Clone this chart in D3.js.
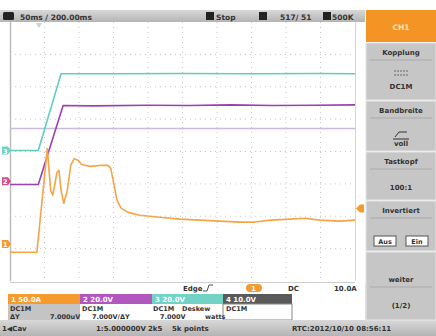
<!DOCTYPE html>
<html>
<head>
<meta charset="utf-8">
<script src="https://cdn.jsdelivr.net/npm/d3@7"></script>
<style>
  html, body { margin: 0; padding: 0; background: #fff; }
  svg { display: block; }
  text { font-family: "DejaVu Sans", "Liberation Sans", sans-serif; font-weight: bold; }
</style>
</head>
<body>
<svg id="scope" width="436" height="336"></svg>
<script>
// Time base: 10 divisions of 50 ms; amplitudes are in screen divisions.
const xDivs = [0, 1, 2, 3, 4, 5, 6, 7, 8, 9, 10];
const yDivs = [-4, -3, -2, -1, 0, 1, 2, 3, 4];

// Channel 1 (current, orange)
const ch1Time = [0, 39, 54, 59, 62, 68, 71, 74, 78, 83, 88, 93, 99, 104, 110, 116, 130, 142, 146, 151, 155, 161, 171, 188, 217, 246, 275, 304, 333, 355, 377, 406, 427, 449, 478, 500];
const ch1Vals = [-3.11, -3.11, 0.09, -1.2, -1.35, -0.65, -0.58, -1.2, -1.6, -1.2, -0.43, -0.22, -0.28, -0.4, -0.43, -0.46, -0.43, -0.43, -0.52, -1.05, -1.5, -1.75, -1.88, -1.97, -2.03, -2.09, -2.12, -2.15, -2.18, -2.18, -2.12, -2.09, -2.06, -2.12, -2.15, -2.12];

// Channel 2 (purple)
const ch2Time = [0, 41, 77, 120, 200, 260, 320, 380, 440, 500];
const ch2Vals = [-1.02, -1.02, 1.42, 1.41, 1.43, 1.42, 1.44, 1.42, 1.43, 1.44];

// Channel 3 (teal)
const ch3Time = [0, 41, 74, 150, 250, 350, 450, 500];
const ch3Vals = [0.03, 0.03, 2.4, 2.4, 2.41, 2.4, 2.41, 2.4];

// Channel 4 (reference, lavender)
const ch4Time = [0, 500];
const ch4Vals = [0.71, 0.71];

// Softkey menu
const menuTitles = ["Kopplung", "Bandbreite", "Tastkopf", "Invertiert", "weiter"];
const menuValues = ["DC1M", "voll", "100:1", "", "(1/2)"];

// Channel info boxes
const chLabels = ["1  50.0A", "2  20.0V", "3  20.0V", "4  10.0V"];
const chColors = ["#f59a2c", "#b257bd", "#72d2c6", "#5a5a5a"];
const traceColors = ["#f6a447", "#9c3fb0", "#62cdbd", "#c9bcd8"];

const svg = d3.select("#scope");

const plot = { left: 10, right: 355, top: 22, bottom: 281 };
const x = d3.scaleLinear().domain([0, 500]).range([plot.left, plot.right]);
const y = d3.scaleLinear().domain([-4, 4]).range([plot.bottom, plot.top]);
const xd = d3.scaleLinear().domain([0, 10]).range([plot.left, plot.right]);

// ---- top status bar ----
const topGrad = svg.append("defs").append("linearGradient")
  .attr("id", "barGrad").attr("x1", 0).attr("x2", 0).attr("y1", 0).attr("y2", 1);
topGrad.append("stop").attr("offset", 0).attr("stop-color", "#d8d8d8");
topGrad.append("stop").attr("offset", 1).attr("stop-color", "#b4b4b4");

svg.append("rect").attr("x", 0).attr("y", 10).attr("width", 365).attr("height", 12).attr("fill", "url(#barGrad)");
svg.append("rect").attr("x", 3).attr("y", 12).attr("width", 11).attr("height", 8).attr("rx", 1.5).attr("fill", "#222");
svg.append("text").attr("x", 20).attr("y", 19.5).attr("font-size", 7.5).attr("fill", "#333").text("50ms  /  200.00ms");
svg.append("rect").attr("x", 206).attr("y", 12).attr("width", 8).attr("height", 8).attr("fill", "#222");
svg.append("text").attr("x", 216).attr("y", 19.5).attr("font-size", 7.5).attr("fill", "#333").text("Stop");
svg.append("rect").attr("x", 259).attr("y", 12).attr("width", 8).attr("height", 8).attr("fill", "#222");
svg.append("text").attr("x", 280).attr("y", 19.5).attr("font-size", 7.5).attr("fill", "#333").text("517/ 51");
svg.append("rect").attr("x", 323).attr("y", 12).attr("width", 8).attr("height", 8).attr("fill", "#222");
svg.append("text").attr("x", 332).attr("y", 19.5).attr("font-size", 7.5).attr("fill", "#333").text("500K");

// ---- graticule ----
const grid = svg.append("g").attr("stroke", "#c8c8c8").attr("stroke-width", 1).attr("stroke-dasharray", "1,4");
grid.selectAll("line.v").data(xDivs.slice(1, -1)).join("line")
  .attr("x1", d => xd(d)).attr("x2", d => xd(d)).attr("y1", plot.top).attr("y2", plot.bottom);
grid.selectAll("line.h").data(yDivs.slice(1, -1)).join("line")
  .attr("x1", plot.left).attr("x2", plot.right).attr("y1", d => y(d)).attr("y2", d => y(d));

svg.append("line").attr("x1", plot.left + 0.5).attr("x2", plot.left + 0.5).attr("y1", plot.top).attr("y2", plot.bottom)
  .attr("stroke", "#bdbdbd").attr("stroke-width", 1.5);
svg.append("line").attr("x1", plot.right + 0.5).attr("x2", plot.right + 0.5).attr("y1", plot.top).attr("y2", plot.bottom)
  .attr("stroke", "#d6d6d6").attr("stroke-width", 1);
svg.append("line").attr("x1", plot.left).attr("x2", plot.right).attr("y1", plot.bottom + 1.5).attr("y2", plot.bottom + 1.5)
  .attr("stroke", "#cfcfcf").attr("stroke-width", 1);

// ---- traces ----
const line = d3.line().x(d => x(d[0])).y(d => y(d[1]));
const traces = [
  { t: ch4Time, v: ch4Vals, c: traceColors[3], w: 1.6 },
  { t: ch3Time, v: ch3Vals, c: traceColors[2], w: 1.6 },
  { t: ch2Time, v: ch2Vals, c: traceColors[1], w: 1.6 },
  { t: ch1Time, v: ch1Vals, c: traceColors[0], w: 1.6 }
];
svg.append("g").selectAll("path").data(traces).join("path")
  .attr("d", d => line(d3.zip(d.t, d.v)))
  .attr("fill", "none").attr("stroke", d => d.c).attr("stroke-width", d => d.w)
  .attr("stroke-linejoin", "round");

// ---- channel ground markers on the left, trigger markers ----
const markers = [
  { v: ch1Vals[0] + 0.25, c: chColors[0], n: "1" },
  { v: ch2Vals[0] + 0.1, c: "#d0508a", n: "2" },
  { v: ch3Vals[0], c: chColors[2], n: "3" }
];
const mk = svg.append("g").selectAll("g").data(markers).join("g")
  .attr("transform", d => `translate(2,${y(d.v)})`);
mk.append("path").attr("d", "M0,-4 L6,-4 L9,0 L6,4 L0,4 Z").attr("fill", d => d.c);
mk.append("text").attr("x", 1).attr("y", 3).attr("font-size", 6.5).attr("fill", "#fff").text(d => d.n);

// trigger level on the right edge
const trigLevel = -1.76;
svg.append("path").attr("transform", `translate(${plot.right + 1},${y(trigLevel)})`)
  .attr("d", "M0,0 L4,-4 L8,-4 L8,4 L4,4 Z").attr("fill", chColors[0]);
// trigger position at top
svg.append("path").attr("transform", `translate(${x(42)},${plot.top + 1})`)
  .attr("d", "M-3,0 L3,0 L0,5 Z").attr("fill", "#d0d0d0");

// ---- trigger info row ----
svg.append("text").attr("x", 183).attr("y", 291).attr("font-size", 7).attr("fill", "#333").text("Edge");
svg.append("path").attr("d", "M203,291 L207,291 L209,285 L213,285").attr("fill", "none").attr("stroke", "#555").attr("stroke-width", 1);
svg.append("rect").attr("x", 246).attr("y", 284).attr("width", 16).attr("height", 8).attr("rx", 4).attr("fill", chColors[0]);
svg.append("text").attr("x", 251).attr("y", 291).attr("font-size", 7).attr("fill", "#fff").text("1");
svg.append("text").attr("x", 288).attr("y", 291).attr("font-size", 7).attr("fill", "#333").text("DC");
svg.append("text").attr("x", 334).attr("y", 291).attr("font-size", 7).attr("fill", "#333").text("10.0A");

// ---- channel boxes ----
const boxW = [72, 72, 71, 69];
const boxX = [8, 80, 152, 223];
const boxes = svg.append("g").selectAll("g").data(chLabels).join("g");
boxes.append("rect").attr("x", (d, i) => boxX[i]).attr("y", 294).attr("width", (d, i) => boxW[i]).attr("height", 10)
  .attr("fill", (d, i) => chColors[i]);
boxes.append("text").attr("x", (d, i) => boxX[i] + 3).attr("y", 302).attr("font-size", 7).attr("fill", "#fff").text(d => d);

svg.append("rect").attr("x", 8).attr("y", 304).attr("width", 72).attr("height", 16).attr("fill", "#c4c4c4");
svg.append("rect").attr("x", 223).attr("y", 304).attr("width", 69).attr("height", 16).attr("fill", "none").attr("stroke", "#888");
const infoRow1 = [[10, "DC1M"], [82, "DC1M"], [153, "DC1M"], [182, "Deskew"], [226, "DC1M"]];
const infoRow2 = [[10, "\u0394Y"], [50, "7.000uV"], [92, "7.000V/\u0394Y"], [160, "7.000V"], [205, "watts"]];
svg.append("g").selectAll("text").data(infoRow1).join("text")
  .attr("x", d => d[0]).attr("y", 311).attr("font-size", 6.5).attr("fill", "#333").text(d => d[1]);
svg.append("g").selectAll("text").data(infoRow2).join("text")
  .attr("x", d => d[0]).attr("y", 318.5).attr("font-size", 6.5).attr("fill", "#333").text(d => d[1]);
svg.append("line").attr("x1", 366).attr("x2", 366).attr("y1", 283).attr("y2", 320).attr("stroke", "#bbb");

// ---- bottom status bar ----
svg.append("rect").attr("x", 0).attr("y", 320).attr("width", 436).attr("height", 16).attr("fill", "url(#barGrad)");
svg.append("text").attr("x", 2).attr("y", 331).attr("font-size", 7).attr("fill", "#333").text("1\u25C0Cav");
svg.append("text").attr("x", 96).attr("y", 331).attr("font-size", 7).attr("fill", "#333").text("1:5.000000V");
svg.append("text").attr("x", 148).attr("y", 331).attr("font-size", 7).attr("fill", "#333").text("2k5");
svg.append("text").attr("x", 172).attr("y", 331).attr("font-size", 7).attr("fill", "#333").text("5k points");
svg.append("text").attr("x", 292).attr("y", 331).attr("font-size", 7).attr("fill", "#333").text("RTC:2012/10/10 08:56:11");

// ---- softkey menu ----
const menuX = 366, menuW = 70;
svg.append("rect").attr("x", menuX).attr("y", 10).attr("width", menuW).attr("height", 32).attr("fill", "#f39424");
svg.append("text").attr("x", menuX + menuW / 2).attr("y", 30).attr("text-anchor", "middle").attr("font-size", 7.5)
  .attr("fill", "#fde0b0").text("CH1");

const panelTop = [43, 101, 152, 201, 252];
const panelH = [57, 50, 48, 50, 68];
const panels = svg.append("g").selectAll("g").data(menuTitles).join("g");
panels.append("rect").attr("x", menuX).attr("y", (d, i) => panelTop[i]).attr("width", menuW).attr("height", (d, i) => panelH[i])
  .attr("fill", "#c6c6c6").attr("stroke", "#e6e6e6").attr("stroke-width", 1);
panels.append("line").attr("x1", menuX + 4).attr("x2", menuX + menuW - 4)
  .attr("y1", (d, i) => panelTop[i] + (i === 4 ? 35 : 17)).attr("y2", (d, i) => panelTop[i] + (i === 4 ? 35 : 17))
  .attr("stroke", "#aaa");
panels.append("text").attr("x", menuX + menuW / 2).attr("y", (d, i) => panelTop[i] + (i === 4 ? 30 : 12))
  .attr("text-anchor", "middle").attr("font-size", 7).attr("fill", "#333").text(d => d);
panels.append("text").attr("x", menuX + menuW / 2)
  .attr("y", (d, i) => [panelTop[0] + 46, panelTop[1] + 45, panelTop[2] + 38, 0, panelTop[4] + 56][i])
  .attr("text-anchor", "middle").attr("font-size", 7).attr("fill", "#333").text((d, i) => menuValues[i]);

// bandwidth icon
svg.append("path").attr("d", `M${menuX + 29},${panelTop[1] + 36} L${menuX + 33},${panelTop[1] + 31} L${menuX + 41},${panelTop[1] + 31}`)
  .attr("fill", "none").attr("stroke", "#333").attr("stroke-width", 1);
svg.append("path").attr("d", `M${menuX + 27},${panelTop[1] + 38} L${menuX + 43},${panelTop[1] + 38}`)
  .attr("stroke", "#333").attr("stroke-width", 1);
// coupling icon dashes
svg.append("path").attr("d", `M${menuX + 28},${panelTop[0] + 28} L${menuX + 42},${panelTop[0] + 28} M${menuX + 28},${panelTop[0] + 32} L${menuX + 42},${panelTop[0] + 32}`)
  .attr("stroke", "#666").attr("stroke-width", 1).attr("stroke-dasharray", "2,1");

// invert on/off buttons
const btn = [["Aus", 8], ["Ein", 40]];
const btns = svg.append("g").selectAll("g").data(btn).join("g");
btns.append("rect").attr("x", d => menuX + d[1]).attr("y", panelTop[3] + 35).attr("width", 22).attr("height", 10)
  .attr("fill", "#fff").attr("stroke", "#555");
btns.append("text").attr("x", d => menuX + d[1] + 11).attr("y", panelTop[3] + 43).attr("text-anchor", "middle")
  .attr("font-size", 6.5).attr("fill", "#333").text(d => d[0]);
</script>
</body>
</html>
